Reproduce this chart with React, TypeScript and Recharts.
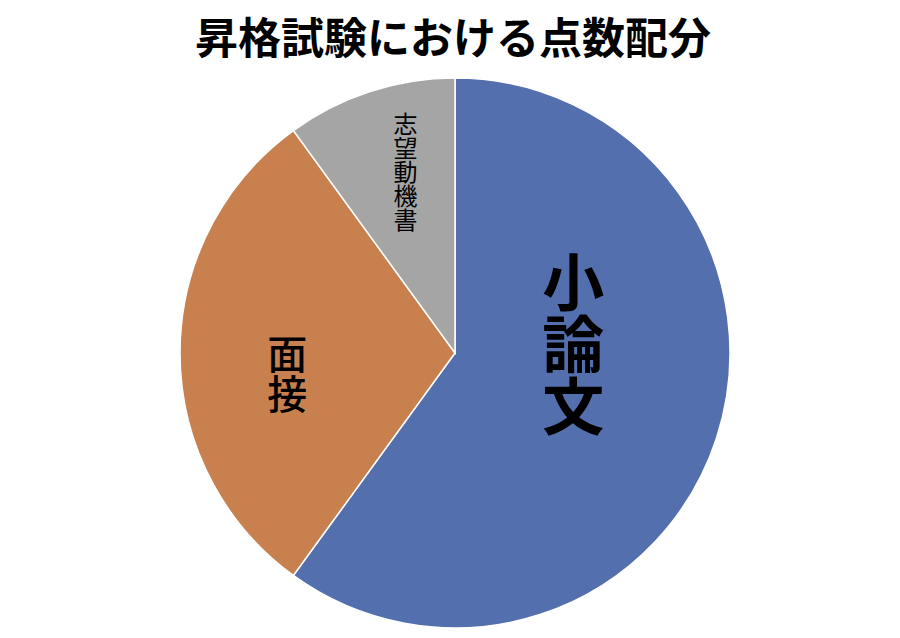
import React from 'react';
import { PieChart, Pie, Cell } from 'recharts';

const TITLE = '昇格試験における点数配分';
const CATEGORIES = ['小論文', '面接', '志望動機書'];
const SCORES = [60, 30, 10];
const COLORS = ['#546fae', '#c8804f', '#a5a5a5'];

// label placement per slice: offset from centre in radius units, font size, weight
const LABEL_LAYOUT = [
  { dx: 0.43, dy: -0.03, size: 62, weight: 700 },
  { dx: -0.61, dy: 0.075, size: 40, weight: 500 },
  { dx: -0.18, dy: -0.66, size: 24, weight: 400 },
];

const data = CATEGORIES.map((name, i) => ({ name, value: SCORES[i] }));

const renderLabel = (props: any) => {
  const { cx, cy, outerRadius, index, name } = props;
  const l = LABEL_LAYOUT[index];
  const x = cx + l.dx * outerRadius;
  const y = cy + l.dy * outerRadius;
  return (
    <text
      key={`lbl-${index}`}
      x={x}
      y={y}
      textAnchor="middle"
      fontSize={l.size}
      fontWeight={l.weight}
      fill="#000"
      fontFamily='"Noto Sans CJK JP", sans-serif'
      style={{ writingMode: 'vertical-rl' as any }}
    >
      {name}
    </text>
  );
};

export default function App() {
  return (
    <div style={{ position: 'absolute', left: 0, top: 0, width: 900, height: 638, background: '#fff' }}>
      <div
        style={{
          position: 'absolute',
          left: 0,
          top: 8,
          width: 906,
          textAlign: 'center',
          fontFamily: '"Noto Sans CJK JP", sans-serif',
          fontWeight: 600,
          fontSize: 43,
          lineHeight: '54px',
          color: '#000',
        }}
      >
        {TITLE}
      </div>
      <PieChart width={900} height={638} margin={{ top: 0, right: 0, bottom: 0, left: 0 }}>
        <Pie
          data={data}
          dataKey="value"
          nameKey="name"
          cx={455}
          cy={353}
          outerRadius={275}
          startAngle={90}
          endAngle={-270}
          stroke="#fff"
          strokeWidth={1.5}
          label={renderLabel}
          labelLine={false}
          isAnimationActive={false}
        >
          {data.map((d, i) => (
            <Cell key={d.name} fill={COLORS[i]} />
          ))}
        </Pie>
      </PieChart>
    </div>
  );
}
